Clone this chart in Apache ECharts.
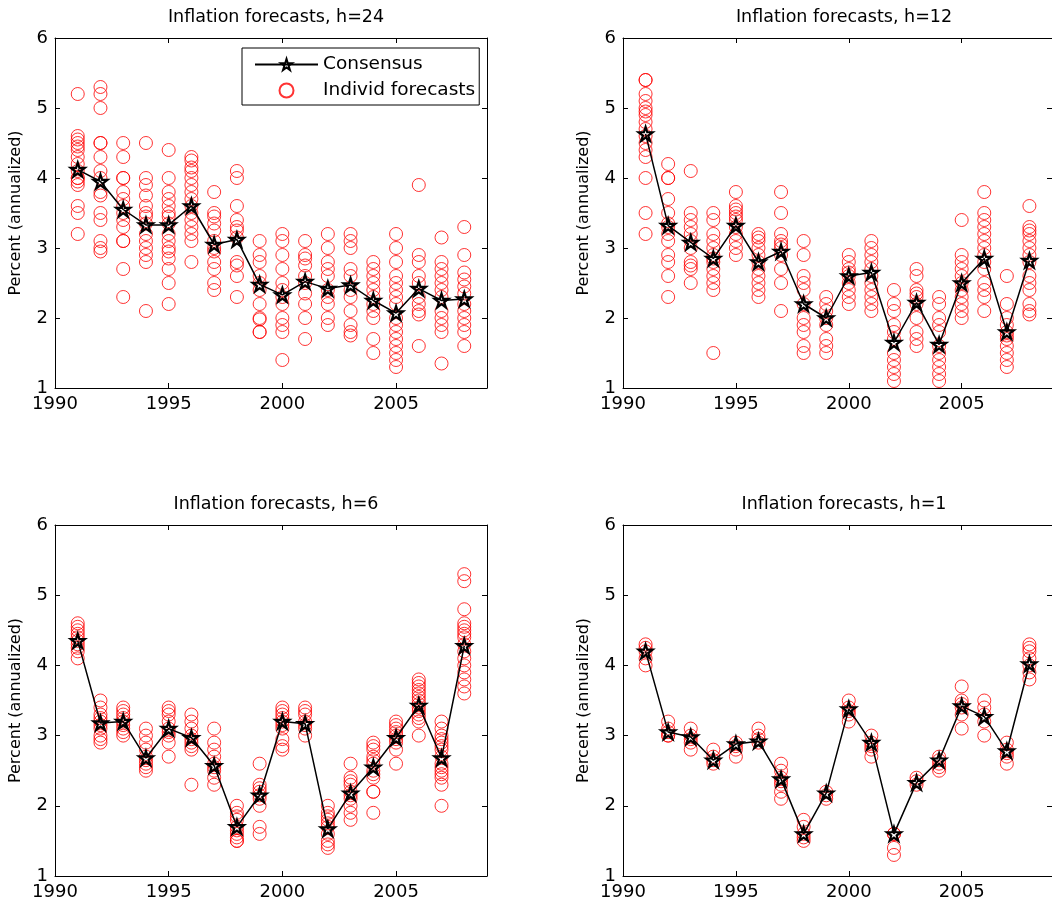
<!DOCTYPE html>
<html>
<head>
<meta charset="utf-8">
<script src="https://cdn.jsdelivr.net/npm/echarts@6/dist/echarts.min.js"></script>
<style>
  html, body { margin: 0; padding: 0; background: #fff; }
  #chart { width: 1052px; height: 909px; }
</style>
</head>
<body>
<div id="chart"></div>
<script>
// survey years
var years = [1991, 1992, 1993, 1994, 1995, 1996, 1997, 1998, 1999, 2000, 2001, 2002, 2003, 2004, 2005, 2006, 2007, 2008];

// consensus forecasts per horizon
var consensus24 = [4.12, 3.95, 3.55, 3.33, 3.33, 3.6, 3.05, 3.12, 2.48, 2.33, 2.52, 2.42, 2.47, 2.25, 2.07, 2.42, 2.25, 2.27];
var consensus12 = [4.63, 3.32, 3.08, 2.85, 3.32, 2.8, 2.95, 2.2, 2.0, 2.6, 2.65, 1.65, 2.22, 1.62, 2.5, 2.85, 1.8, 2.82];
var consensus6 = [4.35, 3.18, 3.2, 2.68, 3.1, 2.97, 2.57, 1.7, 2.15, 3.2, 3.17, 1.67, 2.18, 2.55, 2.97, 3.43, 2.68, 4.28];
var consensus1 = [4.2, 3.05, 2.98, 2.65, 2.88, 2.92, 2.38, 1.6, 2.18, 3.38, 2.9, 1.6, 2.33, 2.65, 3.42, 3.27, 2.78, 4.02];

// individual forecasts, one list per year
var indiv24 = [
  [5.2, 4.6, 4.55, 4.5, 4.45, 4.4, 4.3, 4.2, 4.1, 4.0, 4.0, 3.95, 3.9, 3.6, 3.5, 3.2],
  [5.3, 5.2, 5.0, 4.5, 4.5, 4.3, 4.1, 4.0, 3.8, 3.75, 3.5, 3.4, 3.1, 3.0, 2.95],
  [4.5, 4.3, 4.0, 4.0, 3.8, 3.7, 3.6, 3.5, 3.4, 3.3, 3.1, 3.1, 2.7, 2.3],
  [4.5, 4.0, 3.9, 3.75, 3.6, 3.5, 3.45, 3.35, 3.2, 3.1, 3.0, 2.9, 2.8, 2.1],
  [4.4, 4.0, 3.8, 3.7, 3.6, 3.5, 3.45, 3.35, 3.2, 3.1, 3.0, 2.95, 2.85, 2.7, 2.5, 2.2],
  [4.3, 4.25, 4.15, 4.1, 4.0, 3.9, 3.8, 3.7, 3.6, 3.5, 3.4, 3.3, 3.2, 3.1, 2.8],
  [3.8, 3.5, 3.45, 3.35, 3.25, 3.1, 3.0, 2.95, 2.8, 2.7, 2.5, 2.4],
  [4.1, 4.0, 3.6, 3.4, 3.3, 3.25, 3.15, 2.8, 2.75, 2.6, 2.3],
  [3.1, 2.9, 2.8, 2.6, 2.5, 2.4, 2.2, 2.0, 1.98, 1.8, 1.8],
  [3.2, 3.1, 2.9, 2.7, 2.5, 2.4, 2.3, 2.2, 2.0, 1.9, 1.8, 1.4],
  [3.1, 2.9, 2.85, 2.75, 2.6, 2.5, 2.35, 2.2, 2.0, 1.7],
  [3.2, 3.0, 2.8, 2.7, 2.6, 2.4, 2.3, 2.2, 2.0, 1.9],
  [3.2, 3.1, 3.0, 2.7, 2.6, 2.4, 2.3, 2.1, 1.9, 1.8, 1.75],
  [2.8, 2.7, 2.6, 2.5, 2.4, 2.3, 2.2, 2.1, 2.0, 1.7, 1.5],
  [3.2, 3.0, 2.8, 2.6, 2.5, 2.4, 2.3, 2.2, 2.0, 1.9, 1.8, 1.7, 1.6, 1.5, 1.4, 1.3],
  [3.9, 2.9, 2.8, 2.6, 2.5, 2.3, 2.2, 2.1, 2.05, 1.6],
  [3.15, 2.8, 2.7, 2.6, 2.5, 2.4, 2.3, 2.1, 2.0, 1.9, 1.8, 1.35],
  [3.3, 2.9, 2.65, 2.55, 2.45, 2.35, 2.2, 2.1, 2.0, 1.9, 1.8, 1.6]
];
var indiv12 = [
  [5.4, 5.4, 5.2, 5.1, 5.0, 4.95, 4.9, 4.8, 4.7, 4.6, 4.5, 4.4, 4.3, 4.0, 3.5, 3.2],
  [4.2, 4.0, 4.0, 3.7, 3.5, 3.35, 3.3, 3.2, 3.1, 2.9, 2.8, 2.6, 2.3],
  [4.1, 3.5, 3.4, 3.3, 3.2, 3.1, 3.0, 2.8, 2.75, 2.7, 2.5],
  [3.5, 3.4, 3.2, 3.1, 3.0, 2.9, 2.85, 2.8, 2.7, 2.6, 2.5, 2.4, 1.5],
  [3.8, 3.6, 3.55, 3.5, 3.45, 3.4, 3.3, 3.2, 3.1, 3.0, 2.9],
  [3.2, 3.15, 3.1, 3.0, 2.9, 2.8, 2.7, 2.6, 2.5, 2.4, 2.3],
  [3.8, 3.5, 3.2, 3.1, 3.05, 3.0, 2.9, 2.7, 2.5, 2.1],
  [3.1, 2.9, 2.6, 2.5, 2.4, 2.2, 2.0, 1.9, 1.8, 1.6, 1.5],
  [2.3, 2.2, 2.1, 2.0, 1.9, 1.7, 1.6, 1.5],
  [2.9, 2.8, 2.7, 2.65, 2.6, 2.5, 2.4, 2.3, 2.2],
  [3.1, 3.0, 2.9, 2.8, 2.7, 2.6, 2.5, 2.4, 2.3, 2.2, 2.1],
  [2.4, 2.2, 2.1, 1.9, 1.8, 1.7, 1.5, 1.4, 1.3, 1.2, 1.1],
  [2.7, 2.6, 2.4, 2.35, 2.3, 2.2, 2.0, 1.8, 1.7, 1.6],
  [2.3, 2.2, 2.0, 1.9, 1.8, 1.6, 1.5, 1.4, 1.3, 1.2, 1.1],
  [3.4, 2.9, 2.8, 2.7, 2.6, 2.5, 2.4, 2.3, 2.2, 2.1, 2.0],
  [3.8, 3.5, 3.4, 3.3, 3.2, 3.1, 3.0, 2.9, 2.8, 2.7, 2.5, 2.4, 2.3, 2.1],
  [2.6, 2.2, 2.0, 1.9, 1.8, 1.75, 1.7, 1.6, 1.5, 1.4, 1.3],
  [3.6, 3.3, 3.25, 3.2, 3.1, 3.0, 2.9, 2.8, 2.6, 2.5, 2.4, 2.2, 2.1, 2.05]
];
var indiv6 = [
  [4.6, 4.55, 4.5, 4.45, 4.4, 4.35, 4.3, 4.25, 4.2, 4.1],
  [3.5, 3.4, 3.3, 3.25, 3.2, 3.15, 3.1, 3.0, 2.95, 2.9],
  [3.4, 3.35, 3.3, 3.25, 3.2, 3.15, 3.1, 3.05, 3.0],
  [3.1, 3.0, 2.9, 2.8, 2.7, 2.65, 2.6, 2.55, 2.5],
  [3.4, 3.35, 3.3, 3.2, 3.1, 3.05, 3.0, 2.9, 2.7],
  [3.3, 3.2, 3.1, 3.0, 2.95, 2.9, 2.85, 2.8, 2.3],
  [3.1, 2.9, 2.8, 2.7, 2.6, 2.55, 2.5, 2.4, 2.3],
  [2.0, 1.9, 1.85, 1.8, 1.7, 1.65, 1.6, 1.55, 1.5, 1.5],
  [2.6, 2.3, 2.25, 2.2, 2.15, 2.1, 2.0, 1.7, 1.6],
  [3.4, 3.35, 3.3, 3.25, 3.2, 3.15, 3.1, 2.95, 2.85, 2.8],
  [3.4, 3.35, 3.3, 3.2, 3.15, 3.1, 3.0],
  [2.0, 1.9, 1.85, 1.8, 1.75, 1.7, 1.6, 1.5, 1.45, 1.4],
  [2.6, 2.4, 2.35, 2.3, 2.2, 2.15, 2.1, 2.0, 1.9, 1.8],
  [2.9, 2.85, 2.8, 2.7, 2.65, 2.6, 2.5, 2.45, 2.4, 2.2, 2.2, 1.9],
  [3.2, 3.15, 3.1, 3.05, 3.0, 2.95, 2.9, 2.8, 2.6],
  [3.8, 3.75, 3.7, 3.65, 3.6, 3.55, 3.5, 3.45, 3.4, 3.35, 3.3, 3.25, 3.2, 3.0],
  [3.2, 3.1, 3.0, 2.95, 2.9, 2.85, 2.8, 2.7, 2.6, 2.55, 2.5, 2.45, 2.4, 2.3, 2.0],
  [5.3, 5.2, 4.8, 4.6, 4.55, 4.5, 4.45, 4.4, 4.3, 4.2, 4.1, 4.0, 3.9, 3.8, 3.7, 3.6]
];
var indiv1 = [
  [4.3, 4.25, 4.2, 4.1, 4.0],
  [3.2, 3.1, 3.05, 3.0, 3.0],
  [3.1, 3.0, 2.95, 2.9, 2.8],
  [2.8, 2.7, 2.65, 2.6],
  [2.9, 2.85, 2.8, 2.7],
  [3.1, 3.0, 2.95, 2.9],
  [2.6, 2.5, 2.4, 2.35, 2.3, 2.2, 2.1],
  [1.8, 1.7, 1.6, 1.55, 1.5],
  [2.2, 2.15, 2.1],
  [3.5, 3.4, 3.35, 3.3, 3.2],
  [3.0, 2.9, 2.85, 2.8, 2.7],
  [1.6, 1.6, 1.4, 1.3],
  [2.4, 2.35, 2.3],
  [2.7, 2.65, 2.6, 2.55, 2.5],
  [3.7, 3.5, 3.45, 3.4, 3.3, 3.1],
  [3.5, 3.4, 3.3, 3.2, 3.0],
  [2.9, 2.8, 2.75, 2.7, 2.6],
  [4.3, 4.25, 4.2, 4.1, 4.0, 3.9, 3.8]
];

var titles = ['Inflation forecasts, h=24', 'Inflation forecasts, h=12', 'Inflation forecasts, h=6', 'Inflation forecasts, h=1'];
var xTicks = [1990, 1995, 2000, 2005];
var yTicks = [1, 2, 3, 4, 5, 6];

var panels = [
  { cons: consensus24, indiv: indiv24 },
  { cons: consensus12, indiv: indiv12 },
  { cons: consensus6, indiv: indiv6 },
  { cons: consensus1, indiv: indiv1 }
];

var FONT = 'DejaVu Sans';
var star = 'path://M50 0 L61.23 34.55 L97.55 34.55 L68.17 55.9 L79.39 90.45 L50 69.1 L20.61 90.45 L31.83 55.9 L2.45 34.55 L38.77 34.55 Z';

var gridPos = [
  { left: 55, top: 38, width: 432, height: 350 },
  { left: 623, top: 38, width: 432, height: 350 },
  { left: 55, top: 525, width: 432, height: 351 },
  { left: 623, top: 525, width: 432, height: 351 }
];

var grids = [], xAxes = [], yAxes = [], series = [], titleList = [];

gridPos.forEach(function (g, i) {
  grids.push({ left: g.left, top: g.top, width: g.width, height: g.height });
  titleList.push({
    text: titles[i],
    left: g.left + 216,
    top: g.top - 35,
    textAlign: 'center',
    textStyle: { fontFamily: FONT, fontSize: 17.5, fontWeight: 'normal', color: '#000' }
  });
  var line = { show: true, lineStyle: { color: '#000', width: 1 } };
  var tick = { show: true, inside: true, length: 5, lineStyle: { color: '#000' } };
  xAxes.push({
    type: 'value', gridIndex: i, position: 'bottom', min: 1990, max: 2009, interval: 5,
    axisLine: line, axisTick: tick, splitLine: { show: false },
    axisLabel: {
      fontFamily: FONT, fontSize: 18, color: '#000', margin: 7, showMaxLabel: false,
      formatter: function (v) { return xTicks.indexOf(v) >= 0 ? String(v) : ''; }
    }
  });
  xAxes.push({
    type: 'value', gridIndex: i, position: 'top', min: 1990, max: 2009, interval: 5,
    axisLine: line, axisTick: tick, splitLine: { show: false }, axisLabel: { show: false }
  });
  yAxes.push({
    type: 'value', gridIndex: i, position: 'left', min: 1, max: 6, interval: 1,
    name: 'Percent (annualized)', nameLocation: 'middle', nameGap: 31, nameRotate: 90,
    nameTextStyle: { fontFamily: FONT, fontSize: 16, color: '#000' },
    axisLine: line, axisTick: tick, splitLine: { show: false },
    axisLabel: {
      fontFamily: FONT, fontSize: 18, color: '#000', margin: 7,
      formatter: function (v) { return yTicks.indexOf(v) >= 0 ? String(v) : ''; }
    }
  });
  yAxes.push({
    type: 'value', gridIndex: i, position: 'right', min: 1, max: 6, interval: 1,
    axisLine: line, axisTick: tick, splitLine: { show: false }, axisLabel: { show: false }
  });

  var pts = [];
  panels[i].indiv.forEach(function (vals, k) {
    vals.forEach(function (v) { pts.push([years[k], v]); });
  });
  series.push({
    name: 'Individ forecasts', type: 'scatter', xAxisIndex: 2 * i, yAxisIndex: 2 * i,
    symbol: 'circle', symbolSize: 13, z: 2,
    itemStyle: { color: 'rgba(255,255,255,0)', borderColor: '#ff0000', borderWidth: 1 },
    emphasis: { disabled: true },
    data: pts
  });
  series.push({
    name: 'Consensus', type: 'line', xAxisIndex: 2 * i, yAxisIndex: 2 * i,
    symbol: star, symbolSize: 14, showAllSymbol: true, z: 3,
    lineStyle: { color: '#000', width: 1.5 },
    itemStyle: { color: 'rgba(255,255,255,0)', borderColor: '#000', borderWidth: 2.2 },
    emphasis: { disabled: true },
    data: years.map(function (y, k) { return [y, panels[i].cons[k]]; })
  });
});

var myChart = echarts.init(document.getElementById('chart'));
myChart.setOption({
  animation: false,
  backgroundColor: '#fff',
  textStyle: { fontFamily: FONT },
  title: titleList,
  grid: grids,
  xAxis: xAxes,
  yAxis: yAxes,
  legend: {
    data: ['Consensus', 'Individ forecasts'],
    orient: 'vertical', left: 242, top: 48,
    padding: [6, 4, 4, 12],
    itemWidth: 63, itemHeight: 14, itemGap: 5,
    backgroundColor: '#fff', borderColor: '#000', borderWidth: 1, borderRadius: 0,
    selectedMode: false,
    textStyle: { fontFamily: FONT, fontSize: 18.5, color: '#000', lineHeight: 21 }
  },
  series: series
});
</script>
</body>
</html>
